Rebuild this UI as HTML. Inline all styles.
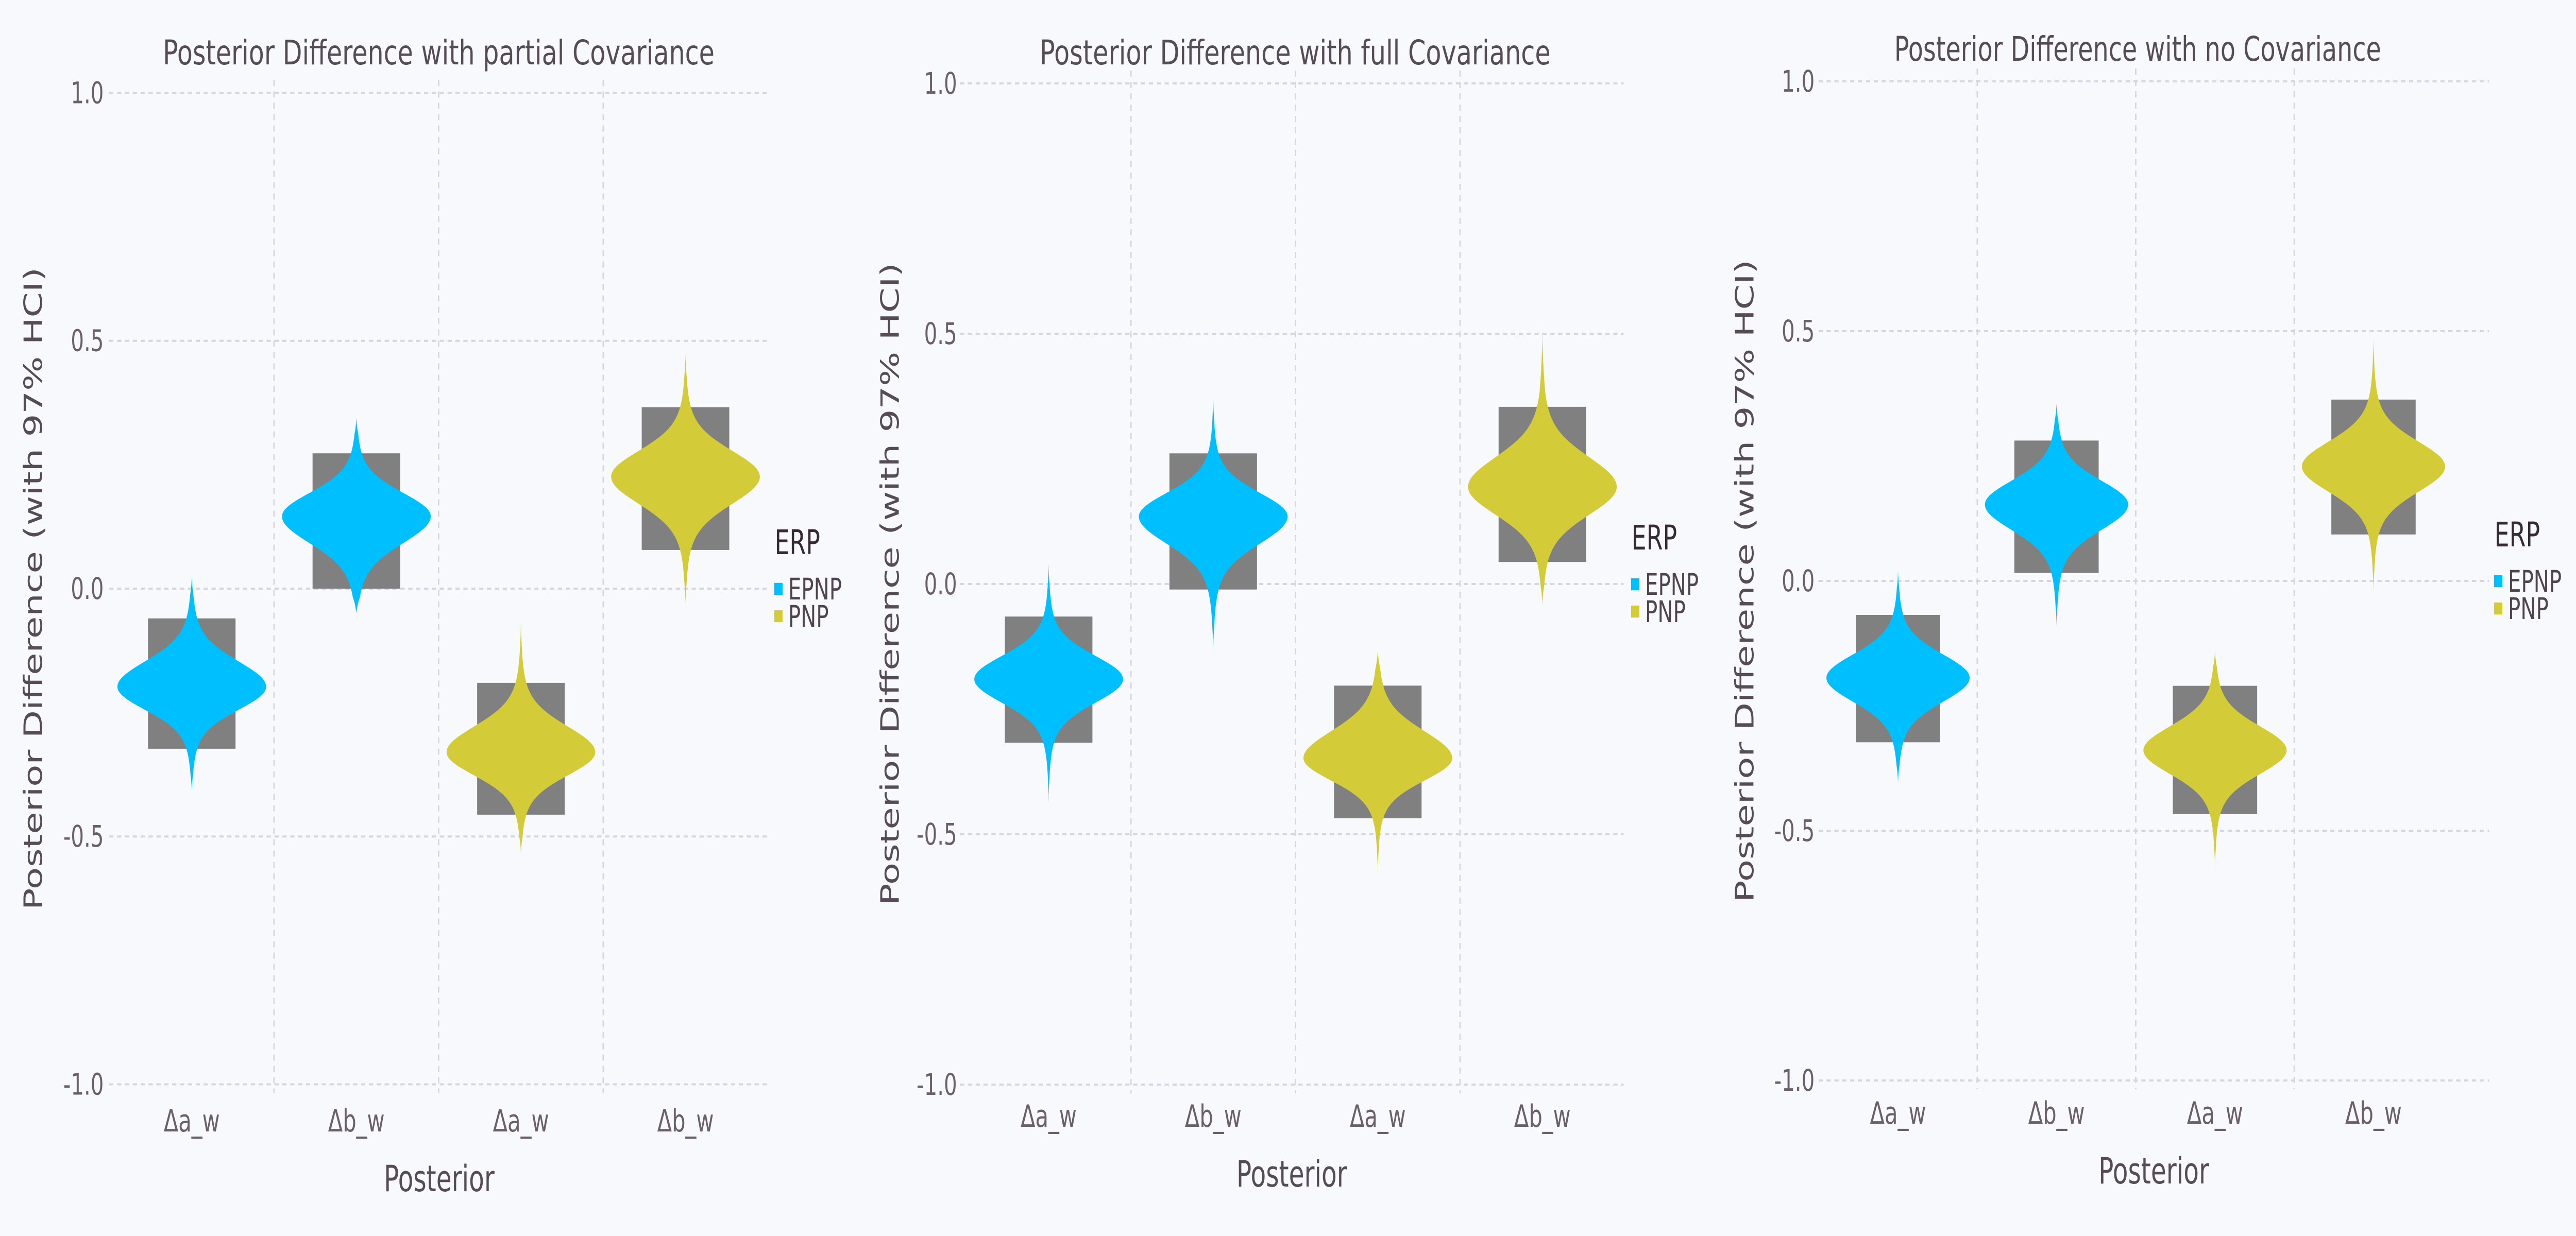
<!DOCTYPE html>
<html><head><meta charset="utf-8">
<style>
html,body{margin:0;padding:0;background:#f8f9fd;overflow:hidden;width:100%;height:100%;}
svg{display:block;font-family:"DejaVu Sans","Liberation Sans",sans-serif;width:100vw;height:100vh;}
</style></head>
<body>
<svg id="chart" viewBox="0 0 7200 2400" preserveAspectRatio="none" xmlns="http://www.w3.org/2000/svg">
<rect x="0" y="0" width="7200" height="2400" fill="#f8f9fd"/>
</svg>
<script>
// ---- data ----
const categories = ["Δa_w","Δb_w","Δa_w","Δb_w"];
const seriesOfCat = ["EPNP","EPNP","PNP","PNP"];
const titles = ["Posterior Difference with partial Covariance","Posterior Difference with full Covariance","Posterior Difference with no Covariance"];
const yTicks = [-1.0,-0.5,0.0,0.5,1.0];
const yTickLabels = ["-1.0","-0.5","0.0","0.5","1.0"];
const legendLabels = ["EPNP","PNP"];
// per panel: HDI low/high, mode, min, max for each category
const hdiLow  = [[-0.323,0.0,-0.456,0.078],[-0.317,-0.011,-0.468,0.044],[-0.323,0.016,-0.467,0.093]];
const hdiHigh = [[-0.060,0.273,-0.190,0.366],[-0.065,0.261,-0.203,0.354],[-0.068,0.281,-0.210,0.363]];
const modes   = [[-0.198,0.146,-0.330,0.226],[-0.190,0.135,-0.348,0.194],[-0.194,0.153,-0.339,0.229]];
const vMin    = [[-0.410,-0.050,-0.537,-0.033],[-0.440,-0.137,-0.584,-0.043],[-0.404,-0.091,-0.580,-0.024]];
const vMax    = [[0.025,0.345,-0.060,0.475],[0.041,0.380,-0.132,0.517],[0.022,0.355,-0.139,0.492]];

// ---- layout (not data) ----
const panels = [
 {cat0:536, sp:460, y0:1143, unit:962.5, gl:305, gr:2150, tx:1226, tb:125, tl:1542, tickR:290, ylx:92, lx:2163},
 {cat0:2931,sp:460, y0:1134, unit:972, gl:2683, gr:4538, tx:3620, tb:125, tl:1428, tickR:2675, ylx:2487, lx:4558},
 {cat0:5305,sp:443, y0:1128, unit:970, gl:5083, gr:6957, tx:5975, tb:118, tl:1361, tickR:5072, ylx:4876, lx:6970}
];
const colors = {EPNP:"#00bfff", PNP:"#d4cb38"};
const NS="http://www.w3.org/2000/svg";
const svg=document.getElementById('chart');
function mk(tag,attrs,parent){const e=document.createElementNS(NS,tag);for(const k in attrs)e.setAttribute(k,attrs[k]);(parent||svg).appendChild(e);return e;}

panels.forEach((P,pi)=>{
  const g=mk('g',{});
  
  
  const yS=v=>P.y0-v*P.unit;
  const xS=i=>P.cat0+i*P.sp;
  yTicks.forEach((t,i)=>{
    const l=mk('line',{x1:P.gl,x2:P.gr,y1:yS(t),y2:yS(t),stroke:'#d6d6e2','stroke-width':4,'stroke-dasharray':'12 10'},g);
    
    
    const tx=mk('text',{x:P.tickR,y:yS(t)+20,'text-anchor':'end','font-size':58,fill:'#6b5f6b'},g);
    tx.textContent=yTickLabels[i];
    
    
  });
  for(let i=0;i<categories.length-1;i++){
    const x=(xS(i)+xS(i+1))/2;
    const l=mk('line',{x1:x,x2:x,y1:yS(1)-25,y2:yS(-1)+17,stroke:'#d6d6e2','stroke-width':4,'stroke-dasharray':'12 10'},g);
    
    
  }
  categories.forEach((c,i)=>{
    const cx=xS(i);
    const bw=P.sp*0.266;
    const b=mk('rect',{x:cx-bw,y:yS(hdiHigh[pi][i]),width:2*bw,height:yS(hdiLow[pi][i])-yS(hdiHigh[pi][i]),fill:'#808080'},g);
    
    
    const W=P.sp*0.452, m=modes[pi][i], lo=vMin[pi][i], hi=vMax[pi][i];
    const su=hdiHigh[pi][i]-m, sd=m-hdiLow[pi][i];
    const N=120, pts=[];
    for(let k=0;k<=N;k++){
      const v=lo+(hi-lo)*k/N;
      const d=v-m;
      const u=d>=0?d/su:-d/sd;
      const dm=d>=0?(hi-m):(m-lo);
      const r=Math.max(0,1-Math.abs(d)/dm);
      let w=0.8*Math.exp(-Math.pow(u/0.5,2))+0.2*Math.exp(-Math.pow(u/0.9,2));
      w=Math.max(w,0.22*r*r)*Math.min(1,r*6);
      pts.push([v,w*W]);
    }
    let dstr='';
    pts.forEach((p,k)=>{dstr+=(k?'L':'M')+(cx+p[1]).toFixed(1)+' '+yS(p[0]).toFixed(1);});
    for(let k=pts.length-1;k>=0;k--){dstr+='L'+(cx-pts[k][1]).toFixed(1)+' '+yS(pts[k][0]).toFixed(1);}
    const vp=mk('path',{d:dstr+'Z',fill:colors[seriesOfCat[i]]},g);
    
    
    const t=mk('text',{x:cx,y:P.y0+1054,'text-anchor':'middle','font-size':60,fill:'#6b5f6b'},g);
    t.textContent=c;
    
    
  });
  const tt=mk('text',{x:P.tx,y:P.tb,'text-anchor':'middle','font-size':66,fill:'#564c57',textLength:P.tl,lengthAdjust:'spacingAndGlyphs'},g);
  tt.textContent=titles[pi];
  
  
  const xl=mk('text',{x:(P.gl+P.gr)/2,y:P.y0+1170,'text-anchor':'middle','font-size':70,fill:'#564c57'},g);
  xl.textContent='Posterior';
  
  
  const yl=mk('text',{x:0,y:0,'text-anchor':'middle','font-size':70,fill:'#564c57',textLength:1248,lengthAdjust:'spacingAndGlyphs',transform:`translate(${P.ylx+25},${P.y0}) rotate(-90)`},g);
  yl.textContent='Posterior Difference (with 97% HCI)';
  
  
  const lg=mk('g',{},g);
  
  
  const lt=mk('text',{x:P.lx+2,y:P.y0-67,'font-size':66,fill:'#362a35'},lg);
  lt.textContent='ERP';
  
  
  legendLabels.forEach((s,j)=>{
    const r=mk('rect',{x:P.lx,y:P.y0-12+53*j,width:25,height:25,fill:colors[s],stroke:'#ffffff','stroke-width':1.5},lg);
    
    
    const t=mk('text',{x:P.lx+40,y:P.y0+21+53*j,'font-size':58,fill:'#4f4450'},lg);
    t.textContent=s;
    
    
  });
});
</script>
</body></html>
